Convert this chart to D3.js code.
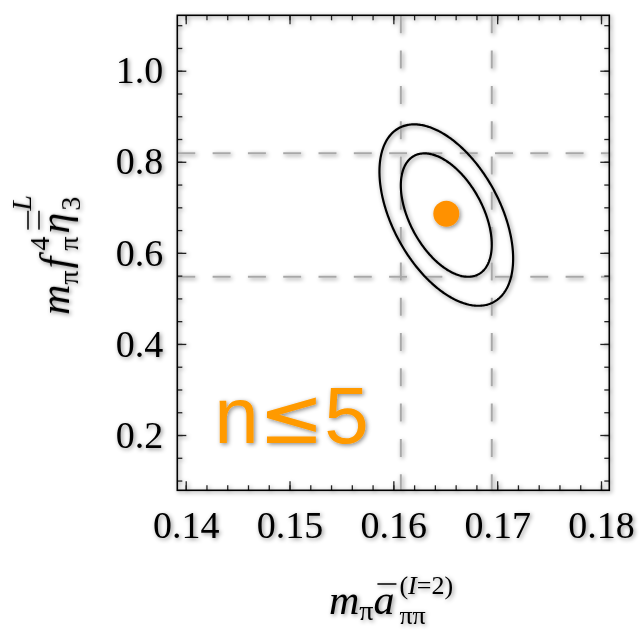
<!DOCTYPE html>
<html>
<head>
<meta charset="utf-8">
<script src="https://cdn.jsdelivr.net/npm/d3@7"></script>
<style>
  body { margin: 0; background: #fff; }
  svg { display: block; }
</style>
</head>
<body>
<div id="chart"></div>
<script>
// tick labels
var xTicks = [0.14, 0.15, 0.16, 0.17, 0.18];
var yTicks = [0.2, 0.4, 0.6, 0.8, 1.0];
var xDomain = [0.13919, 0.1808];
var yDomain = [0.0786, 1.1217];

// fit result: central value, errors, correlation
var center = [0.1651, 0.683];
var sigma = [0.00438, 0.1355];
var rho = -0.48;
var levels = [1, 1.47];
var label = ['n', '\u2264', '5'];

var width = 639, height = 630;
var plot = { left: 177.3, right: 609.3, top: 15.3, bottom: 490.3 };
var serif = '"Liberation Serif", "Times New Roman", serif';

var svg = d3.select('#chart').append('svg')
    .attr('width', width)
    .attr('height', height);

var defs = svg.append('defs');
defs.append('filter').attr('id', 'shadow')
    .attr('x', '-10%').attr('y', '-10%').attr('width', '120%').attr('height', '120%')
  .append('feDropShadow')
    .attr('dx', 1.5).attr('dy', 1.5)
    .attr('stdDeviation', 2)
    .attr('flood-color', '#000')
    .attr('flood-opacity', 0.45);

var root = svg.append('g').attr('filter', 'url(#shadow)');

var x = d3.scaleLinear().domain(xDomain).range([plot.left, plot.right]);
var y = d3.scaleLinear().domain(yDomain).range([plot.bottom, plot.top]);

// dashed 1-sigma lines
var dash = root.append('g')
    .attr('stroke', '#a8a8a8')
    .attr('stroke-width', 2)
    .attr('stroke-dasharray', '18,17.3');

dash.selectAll('line.v')
    .data([center[0] - sigma[0], center[0] + sigma[0]])
  .enter().append('line')
    .attr('class', 'v')
    .attr('x1', function(d){ return x(d); })
    .attr('x2', function(d){ return x(d); })
    .attr('y1', plot.top)
    .attr('y2', plot.bottom);

dash.selectAll('line.h')
    .data([center[1] + sigma[1], center[1] - sigma[1]])
  .enter().append('line')
    .attr('class', 'h')
    .attr('x1', plot.left)
    .attr('x2', plot.right)
    .attr('y1', function(d){ return y(d); })
    .attr('y2', function(d){ return y(d); });

// error ellipses
var angles = d3.range(0, 2 * Math.PI, Math.PI / 180);
var line = d3.line()
    .x(function(t){ return t[0]; })
    .y(function(t){ return t[1]; })
    .curve(d3.curveLinearClosed);

root.selectAll('path.ellipse')
    .data(levels)
  .enter().append('path')
    .attr('class', 'ellipse')
    .attr('fill', 'none')
    .attr('stroke', '#000')
    .attr('stroke-width', 2.2)
    .attr('d', function(k) {
        var pts = angles.map(function(t) {
            var dx = k * sigma[0] * Math.cos(t);
            var dy = k * sigma[1] * (rho * Math.cos(t) + Math.sqrt(1 - rho * rho) * Math.sin(t));
            return [x(center[0] + dx), y(center[1] + dy)];
        });
        return line(pts);
    });

root.append('circle')
    .attr('cx', x(center[0]))
    .attr('cy', y(center[1] + 0.003))
    .attr('r', 13)
    .attr('fill', '#ff9100');

// ticks
function styleAxis(g) {
    g.select('.domain').remove();
    g.selectAll('.tick line').attr('stroke', '#222').attr('stroke-width', 1.3);
    g.selectAll('.tick text')
        .attr('fill', '#000')
        .style('font-family', serif)
        .style('font-size', '38px');
}

var xMinor = x.ticks(20), yMinor = y.ticks(20);

root.append('g').attr('transform', 'translate(0,' + plot.bottom + ')')
    .call(d3.axisBottom(x).tickValues(xMinor).tickSize(-5).tickFormat(''))
    .call(styleAxis);
root.append('g').attr('transform', 'translate(0,' + plot.top + ')')
    .call(d3.axisTop(x).tickValues(xMinor).tickSize(-5).tickFormat(''))
    .call(styleAxis);
root.append('g').attr('transform', 'translate(' + plot.left + ',0)')
    .call(d3.axisLeft(y).tickValues(yMinor).tickSize(-5).tickFormat(''))
    .call(styleAxis);
root.append('g').attr('transform', 'translate(' + plot.right + ',0)')
    .call(d3.axisRight(y).tickValues(yMinor).tickSize(-5).tickFormat(''))
    .call(styleAxis);

root.append('g').attr('transform', 'translate(0,' + plot.bottom + ')')
    .call(d3.axisBottom(x).tickValues(xTicks).tickSize(-9).tickPadding(21).tickFormat(d3.format('.2f')))
    .call(styleAxis);
root.append('g').attr('transform', 'translate(0,' + plot.top + ')')
    .call(d3.axisTop(x).tickValues(xTicks).tickSize(-9).tickFormat(''))
    .call(styleAxis);
root.append('g').attr('transform', 'translate(' + plot.left + ',0)')
    .call(d3.axisLeft(y).tickValues(yTicks).tickSize(-9).tickPadding(14).tickFormat(d3.format('.1f')))
    .call(styleAxis);
root.append('g').attr('transform', 'translate(' + plot.right + ',0)')
    .call(d3.axisRight(y).tickValues(yTicks).tickSize(-9).tickFormat(''))
    .call(styleAxis);

root.append('rect')
    .attr('x', plot.left).attr('y', plot.top)
    .attr('width', plot.right - plot.left)
    .attr('height', plot.bottom - plot.top)
    .attr('fill', 'none')
    .attr('stroke', '#000')
    .attr('stroke-width', 1.6);

// n<=5 label
var nl = root.append('text')
    .attr('x', plot.left + 37)
    .attr('y', plot.bottom - 47)
    .attr('fill', '#ff9a00')
    .style('font-family', '"Liberation Sans", Arial, sans-serif')
    .style('font-size', '80px');
nl.append('tspan').text(label[0]);
nl.append('tspan').style('font-family', '"DejaVu Sans", sans-serif').style('font-size', '78px').text(label[1]);
nl.append('tspan').text(label[2]);

// math-style axis titles, laid out piece by piece
function mathTitle(g, pieces) {
    var cursor = 0, start = 0, adv = 0;
    pieces.forEach(function(p) {
        if (p.stack) { cursor = start; } else { start = cursor; adv = 0; }
        var t = g.append('text')
            .attr('x', cursor)
            .attr('y', p.dy || 0)
            .style('font-family', serif)
            .style('font-size', p.s + 'px');
        p.parts.forEach(function(q) {
            t.append('tspan').style('font-style', q[1] ? 'italic' : 'normal').text(q[0]);
        });
        var w = t.node().getComputedTextLength();
        if (p.bars) {
            for (var b = 0; b < p.bars; b++) {
                g.append('line')
                    .attr('x1', cursor + 4).attr('x2', cursor + w + 2)
                    .attr('y1', -30 - b * 11).attr('y2', -30 - b * 11)
                    .attr('stroke', '#000').attr('stroke-width', 1.5);
            }
        }
        adv = Math.max(adv, w + (p.pad || 0));
        cursor = start + adv;
    });
    return cursor;
}

var xt = root.append('g');
var xw = mathTitle(xt, [
    { parts: [['m', 1]], s: 42 },
    { parts: [['\u03c0', 0]], s: 28, dy: 6 },
    { parts: [['a', 1]], s: 42, bars: 1, pad: 5 },
    { parts: [['\u03c0\u03c0', 0]], s: 26, dy: 10 },
    { parts: [['(', 0], ['I', 1], ['=2)', 0]], s: 26, dy: -20, stack: 1 }
]);
xt.attr('transform', 'translate(' + (391 - xw / 2) + ',614)');

var yt = root.append('g');
var yw = mathTitle(yt, [
    { parts: [['m', 1]], s: 42 },
    { parts: [['\u03c0', 0]], s: 28, dy: 9, pad: 2 },
    { parts: [['f', 1]], s: 42, pad: 6 },
    { parts: [['\u03c0', 0]], s: 28, dy: 9, pad: 3 },
    { parts: [['4', 0]], s: 28, dy: -20, stack: 1 },
    { parts: [['\u03b7', 1]], s: 42, bars: 2, pad: 2 },
    { parts: [['3', 0]], s: 28, dy: 11 },
    { parts: [['L', 1]], s: 28, dy: -38, stack: 1 }
]);
yt.attr('transform', 'translate(69,' + (255 + yw / 2) + ') rotate(-90)');
</script>
</body>
</html>
